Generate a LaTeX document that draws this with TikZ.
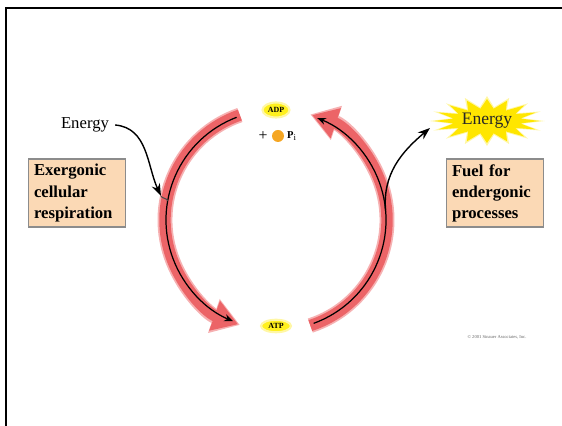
\documentclass[tikz,border=0pt]{standalone}
\usepackage{fontspec}
\setmainfont{Liberation Serif}
\usetikzlibrary{arrows.meta,calc,shapes.geometric}
\definecolor{cyclered}{HTML}{EC6467}
\definecolor{cycleglow}{HTML}{F6B1B2}
\definecolor{boxfill}{HTML}{FBD9B5}
\definecolor{boxedge}{HTML}{8C8C8C}
\definecolor{nucyellow}{HTML}{FFF01E}
\definecolor{nucglow}{HTML}{FFF7A6}
\definecolor{phosorange}{HTML}{F5A623}
\definecolor{stargold}{HTML}{FFE600}

\tikzset{
  infobox/.style={draw=boxedge, fill=boxfill, line width=0.8pt, align=left,
    text width=1.72cm, inner sep=3pt, font=\fontsize{9.5}{12}\selectfont\bfseries},
  nucleotide/.style={ellipse, fill=nucyellow, draw=nucglow, line width=1.2pt,
    inner sep=0pt, font=\fontsize{4.5}{5}\selectfont\bfseries},
  glowarrow/.style={cycleglow, line width=8.5pt,
    -{Triangle[width=0.68cm, length=0.55cm]}},
  cyclearrow/.style={cyclered, line width=6.5pt,
    -{Triangle[width=0.6cm, length=0.5cm]}},
  innerarrow/.style={black, line width=0.7pt, -{Stealth[length=5pt, width=4pt]}},
  energyarrow/.style={black, line width=0.8pt, -{Stealth[length=7pt, width=5pt]}}
}

\begin{document}
\begin{tikzpicture}[x=0.02cm, y=0.02cm]
  \useasboundingbox (0,0) rectangle (562,426);

  % Frame (open at right and bottom)
  \draw[black, line width=1.3pt] (6,0) -- (6,418) -- (562,418);

  % Centre of the cycle
  \coordinate (c) at (276,206);

  % Nucleotides
  \node[nucleotide, minimum height=0.3cm, minimum width=0.54cm] (adp) at (276,316) {ADP};
  \node[font=\fontsize{9}{10}\selectfont] (plus) at (263,290) {+};
  \fill[phosorange] (278,290) circle (6);
  \node[font=\fontsize{6}{7}\selectfont\bfseries] (pi) at (292,290) {P$_{\mathrm{i}}$};
  \node[nucleotide, minimum width=0.6cm, minimum height=0.25cm] (atp) at (276,100) {ATP};

  % Cycle arrows: left (ADP -> ATP), right (ATP -> ADP)
  \coordinate (lstart) at ($(c)+(109:111)$);
  \coordinate (rstart) at ($(c)+(-72:111)$);
  \draw[glowarrow] (lstart) arc[start angle=109, end angle=251, radius=111];
  \draw[glowarrow] (rstart) arc[start angle=-72, end angle=72, radius=111];
  \draw[cyclearrow] (lstart) arc[start angle=109, end angle=250, radius=111];
  \draw[cyclearrow] (rstart) arc[start angle=-72, end angle=71, radius=111];

  % Thin arrows inside the cycle arrows
  \coordinate (lin) at ($(c)+(111:110)$);
  \coordinate (rin) at ($(c)+(-70:110)$);
  \draw[innerarrow] (lin) arc[start angle=111, end angle=247, radius=110];
  \draw[innerarrow] (rin) arc[start angle=-70, end angle=68, radius=110];

  % Energy in (left)
  \node[font=\fontsize{9.5}{11}\selectfont] (energyin) at (85,301) {Energy};
  \coordinate (joinl) at (161,230);
  \draw[energyarrow] (energyin.east) to[out=-5, in=115] (joinl);
  \draw[black!70, line width=0.6pt] (joinl) to[out=-65, in=105] ($(c)+(170:110)$);

  \node[infobox] (exer) at (77,233) {Exergonic\\cellular\\respiration};

  % Energy out (right)
  \coordinate (starc) at (487,305);
  \fill[nucglow] ($(starc)+(0:1.16cm and 0.5cm)$)
    \foreach \a in {0,22.5,...,337.5} {
      -- ($(starc)+(\a:1.16cm and 0.5cm)$) -- ($(starc)+(\a+11.25:0.72cm and 0.28cm)$)
    } -- cycle;
  \fill[stargold] ($(starc)+(0:1.05cm and 0.44cm)$)
    \foreach \a in {0,22.5,...,337.5} {
      -- ($(starc)+(\a:1.05cm and 0.44cm)$) -- ($(starc)+(\a+11.25:0.68cm and 0.25cm)$)
    } -- cycle;
  \node[font=\fontsize{10}{11}\selectfont, text=black!85] (energyout) at (starc) {Energy};

  \coordinate (rjoin) at ($(c)+(5:110)$);
  \coordinate (starw) at (430,298);
  \draw[energyarrow] (rjoin) to[out=95, in=220] (starw);

  \node[infobox] (fuel) at (495,233) {Fuel for\\endergonic\\processes};

  % Copyright line
  \node[font=\fontsize{2.6}{3}\selectfont, text=black!60] (copy) at (497,89) {\copyright{} 2001 Sinauer Associates, Inc.};

\end{tikzpicture}
\end{document}
